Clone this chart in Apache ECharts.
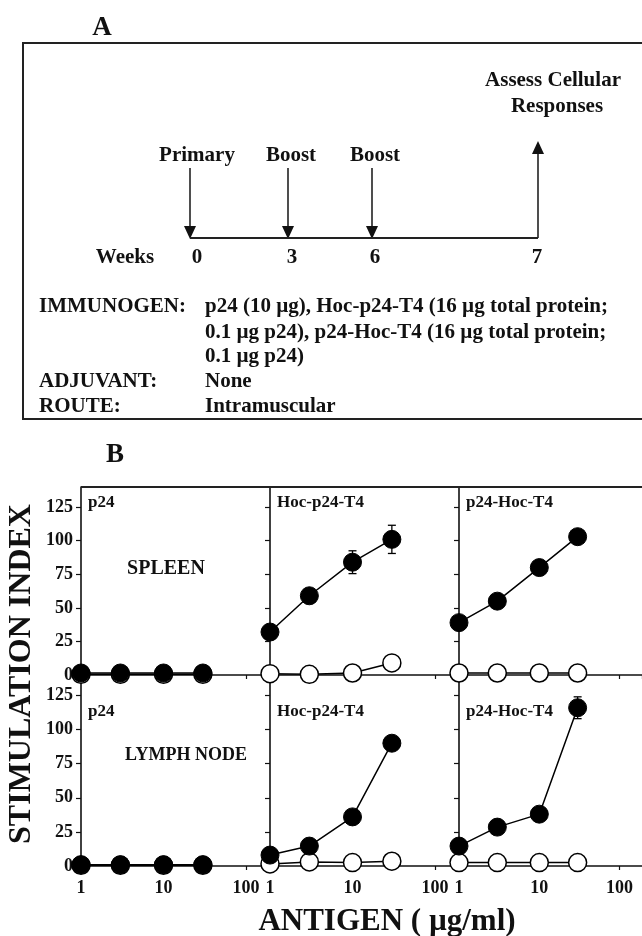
<!DOCTYPE html>
<html>
<head>
<meta charset="utf-8">
<script src="https://cdn.jsdelivr.net/npm/echarts@6/dist/echarts.min.js"></script>
<style>
  html, body { margin: 0; padding: 0; background: #fff; }
  #chart { width: 642px; height: 936px; }
</style>
</head>
<body>
<div id="chart"></div>
<script>
// antigen concentrations (ug/ml)
var conc = [1, 3, 10, 30];

// panel titles, row names
var panelNames = ['p24', 'Hoc-p24-T4', 'p24-Hoc-T4'];
var rowNames = ['SPLEEN', 'LYMPH NODE'];

// spleen
var spleenP24Filled = [1.5, 1.5, 1.5, 1.5];
var spleenP24Open = [0.5, 0.5, 0.5, 0.5];
var spleenHocFilled = [32, 59, 84, 101];
var spleenHocOpen = [1, 0.5, 1.5, 9];
var spleenHocErr = [0, 0, 8.5, 10.5];
var spleenP24HocFilled = [39, 55, 80, 103];
var spleenP24HocOpen = [1.5, 1.5, 1.5, 1.5];

// lymph node
var lymphP24Filled = [1, 1, 1, 1];
var lymphP24Open = [0.5, 0.5, 0.5, 0.5];
var lymphHocFilled = [8, 14.6, 36, 90];
var lymphHocOpen = [1.5, 3, 2.5, 3.5];
var lymphP24HocFilled = [14.6, 28.5, 38, 116];
var lymphP24HocOpen = [2.5, 2.5, 2.5, 2.5];
var lymphP24HocErr = [0, 0, 0, 8];

var yTicks = [0, 25, 50, 75, 100, 125];

// panel A text
var weekLabels = ['0', '3', '6', '7'];
var eventLabels = ['Primary', 'Boost', 'Boost'];

var FONT = '"Liberation Serif", "Times New Roman", serif';
var INK = '#111';

var panels = [
  { filled: spleenP24Filled, open: spleenP24Open, err: null },
  { filled: spleenHocFilled, open: spleenHocOpen, err: spleenHocErr },
  { filled: spleenP24HocFilled, open: spleenP24HocOpen, err: null },
  { filled: lymphP24Filled, open: lymphP24Open, err: null },
  { filled: lymphHocFilled, open: lymphHocOpen, err: null },
  { filled: lymphP24HocFilled, open: lymphP24HocOpen, err: lymphP24HocErr }
];

var colLeft = [81, 270, 459];
var colW = 188;
var rowTop = [487, 675];
var rowH = [188, 191];

function txt(x, y, text, size, align, extra) {
  var el = {
    type: 'text', x: x, y: y, z: 10,
    style: {
      text: text, fill: INK,
      font: 'bold ' + size + 'px ' + FONT,
      align: align || 'center', verticalAlign: 'middle',
      textAlign: align || 'center', textVerticalAlign: 'middle'
    }
  };
  if (extra) { for (var k in extra) el[k] = extra[k]; }
  return el;
}

function seg(x1, y1, x2, y2, w) {
  return { type: 'line', z: 10, shape: { x1: x1, y1: y1, x2: x2, y2: y2 },
    style: { stroke: '#222', lineWidth: w || 2 } };
}

function arrowHead(x, tipY, dir) {
  // dir 1 = pointing down, -1 = pointing up
  var b = tipY - dir * 13;
  return { type: 'polygon', z: 10, shape: { points: [[x - 6, b], [x + 6, b], [x, tipY]] },
    style: { fill: '#111' } };
}

var graphics = [];
// panel A
graphics.push(txt(102, 28, 'A', 27));
graphics.push({ type: 'rect', z: 9, shape: { x: 23, y: 43, width: 660, height: 376 },
  style: { fill: null, stroke: '#222', lineWidth: 2 } });
graphics.push(txt(553, 81, 'Assess Cellular', 21));
graphics.push(txt(557, 107, 'Responses', 21));

var eventX = [190, 288, 372];
var eventTextX = [197, 291, 375];
for (var i = 0; i < eventLabels.length; i++) {
  graphics.push(txt(eventTextX[i], 156, eventLabels[i], 21));
  graphics.push(seg(eventX[i], 168, eventX[i], 228, 1.6));
  graphics.push(arrowHead(eventX[i], 239, 1));
}
graphics.push(seg(190, 238, 538, 238, 2));
graphics.push(seg(538, 238, 538, 152, 1.6));
graphics.push(arrowHead(538, 141, -1));

graphics.push(txt(125, 258, 'Weeks', 21));
var weekX = [197, 292, 375, 537];
for (i = 0; i < weekLabels.length; i++) graphics.push(txt(weekX[i], 258, weekLabels[i], 21));

var infoRows = [
  ['IMMUNOGEN:', 'p24 (10 \u00b5g), Hoc-p24-T4 (16 \u00b5g total protein;'],
  ['', '0.1 \u00b5g p24), p24-Hoc-T4 (16 \u00b5g total protein;'],
  ['', '0.1 \u00b5g p24)'],
  ['ADJUVANT:', 'None'],
  ['ROUTE:', 'Intramuscular']
];
var infoY = [307, 333, 357, 382, 407];
for (i = 0; i < infoRows.length; i++) {
  if (infoRows[i][0]) graphics.push(txt(39, infoY[i], infoRows[i][0], 21, 'left'));
  graphics.push(txt(205, infoY[i], infoRows[i][1], 21, 'left'));
}

// panel B
graphics.push(txt(115, 455, 'B', 27));
graphics.push(seg(81, 487, 660, 487, 2));
graphics.push(txt(22, 674, 'STIMULATION INDEX', 32, 'center', { rotation: Math.PI / 2 }));
graphics.push(txt(387, 922, 'ANTIGEN ( \u00b5g/ml)', 31));
graphics.push(txt(166, 569, rowNames[0], 20));
graphics.push(txt(186, 755, rowNames[1], 18));
for (var r = 0; r < 2; r++) {
  for (var c = 0; c < 3; c++) {
    var ly = r === 0 ? 503 : 712;
    graphics.push(txt(colLeft[c] + 7, ly, panelNames[c], 17, 'left'));
  }
}

var grids = [], xAxes = [], yAxes = [], series = [];
panels.forEach(function (p, idx) {
  var r = Math.floor(idx / 3), c = idx % 3;
  grids.push({ left: colLeft[c], top: rowTop[r], width: colW, height: rowH[r] });
  xAxes.push({
    type: 'log', logBase: 10, min: 1, max: 190, gridIndex: idx,
    axisLine: { show: true, lineStyle: { color: INK, width: 1.6 } },
    axisTick: { show: true, length: 4, lineStyle: { color: INK, width: 1.2 } },
    axisLabel: { show: r === 1, showMaxLabel: false, margin: 13, color: INK,
      fontFamily: FONT, fontWeight: 'bold', fontSize: 18 },
    splitLine: { show: false }
  });
  yAxes.push({
    type: 'value', min: 0, max: 140, gridIndex: idx,
    axisLine: { show: true, lineStyle: { color: INK, width: 1.6 } },
    axisTick: { show: true, length: 5, customValues: yTicks, lineStyle: { color: INK, width: 1.2 } },
    axisLabel: { show: c === 0, customValues: yTicks, margin: 8, color: INK,
      fontFamily: FONT, fontWeight: 'bold', fontSize: 18 },
    splitLine: { show: false }
  });
  series.push({
    type: 'line', xAxisIndex: idx, yAxisIndex: idx, z: 2, clip: false,
    data: conc.map(function (x, i) { return [x, p.open[i]]; }),
    symbol: 'circle', symbolSize: 18,
    itemStyle: { color: '#fff', borderColor: '#000', borderWidth: 1.5 },
    lineStyle: { color: '#000', width: 1.5 }
  });
  if (p.err) {
    var errData = [];
    conc.forEach(function (x, i) {
      if (p.err[i] > 0) errData.push([x, p.filled[i] - p.err[i], p.filled[i] + p.err[i]]);
    });
    series.push({
      type: 'custom', xAxisIndex: idx, yAxisIndex: idx, z: 3, clip: false,
      data: errData,
      renderItem: function (params, api) {
        var lo = api.coord([api.value(0), api.value(1)]);
        var hi = api.coord([api.value(0), api.value(2)]);
        var st = { stroke: '#000', lineWidth: 1.3 };
        return { type: 'group', children: [
          { type: 'line', shape: { x1: lo[0], y1: lo[1], x2: hi[0], y2: hi[1] }, style: st },
          { type: 'line', shape: { x1: lo[0] - 4, y1: lo[1], x2: lo[0] + 4, y2: lo[1] }, style: st },
          { type: 'line', shape: { x1: hi[0] - 4, y1: hi[1], x2: hi[0] + 4, y2: hi[1] }, style: st }
        ] };
      }
    });
  }
  series.push({
    type: 'line', xAxisIndex: idx, yAxisIndex: idx, z: 4, clip: false,
    data: conc.map(function (x, i) { return [x, p.filled[i]]; }),
    symbol: 'circle', symbolSize: 18,
    itemStyle: { color: '#000', borderColor: '#000', borderWidth: 1 },
    lineStyle: { color: '#000', width: 1.5 }
  });
});

var chart = echarts.init(document.getElementById('chart'), null, { renderer: 'canvas' });
chart.setOption({
  backgroundColor: '#fff',
  animation: false,
  grid: grids,
  xAxis: xAxes,
  yAxis: yAxes,
  series: series,
  graphic: { elements: graphics }
});
</script>
</body>
</html>
